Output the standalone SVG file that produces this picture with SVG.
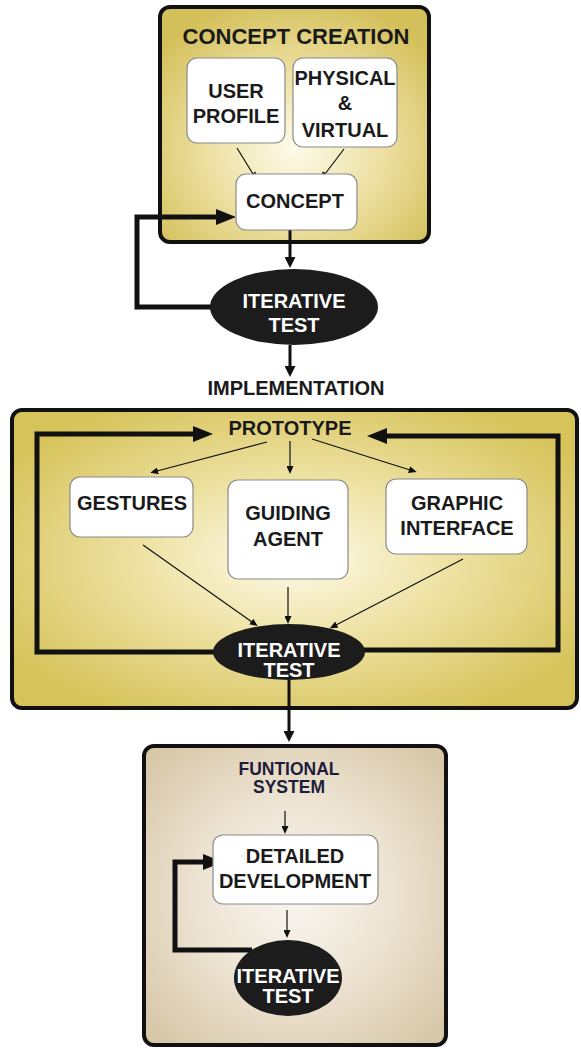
<svg xmlns="http://www.w3.org/2000/svg" width="581" height="1049" viewBox="0 0 581 1049">
<defs>
<radialGradient id="gYellowTop" cx="0.5" cy="0.6" r="0.65">
<stop offset="0" stop-color="#fdfbea"/>
<stop offset="0.5" stop-color="#ede0a2"/>
<stop offset="1" stop-color="#d3c05a"/>
</radialGradient>
<radialGradient id="gYellowMid" cx="0.5" cy="0.5" r="0.6">
<stop offset="0" stop-color="#fdfbea"/>
<stop offset="0.45" stop-color="#eee2a4"/>
<stop offset="1" stop-color="#d6c35a"/>
</radialGradient>
<radialGradient id="gBeige" cx="0.5" cy="0.5" r="0.65">
<stop offset="0" stop-color="#f9f6f1"/>
<stop offset="0.5" stop-color="#ede3d2"/>
<stop offset="1" stop-color="#d8c8aa"/>
</radialGradient>
<marker id="aThin" markerUnits="userSpaceOnUse" markerWidth="8" markerHeight="7" refX="1" refY="3.5" orient="auto">
<path d="M0,0 L8,3.5 L0,7 z" fill="#111"/>
</marker>
<marker id="aMed" markerUnits="userSpaceOnUse" markerWidth="11" markerHeight="11" refX="1" refY="5.5" orient="auto">
<path d="M0,0 L11,5.5 L0,11 z" fill="#111"/>
</marker>
<marker id="aThick" markerUnits="userSpaceOnUse" markerWidth="20" markerHeight="16" refX="2" refY="8" orient="auto">
<path d="M0,0 L20,8 L0,16 z" fill="#111"/>
</marker>
</defs>
<style>
.frame{stroke:#111;stroke-width:4}
.box{fill:#fff;stroke:#8a8a8a;stroke-width:1.2}
.oval{fill:#1c1c1c}
.t{font-family:"Liberation Sans",Arial,sans-serif;font-weight:bold;font-size:20px;fill:#1a1a1a;text-anchor:middle}
.w{fill:#fff}
.thin{fill:none;stroke:#111;stroke-width:1.2;marker-end:url(#aThin)}
.med{fill:none;stroke:#111;stroke-width:3;marker-end:url(#aMed)}
.thick{fill:none;stroke:#111;stroke-width:5;stroke-linejoin:miter;marker-end:url(#aThick)}
</style>

<!-- containers -->
<g id="concept-creation">
<rect class="frame" x="160" y="7" width="269" height="235" rx="10" fill="url(#gYellowTop)"/>
<text class="t" x="296" y="44" style="font-size:22px">CONCEPT CREATION</text>
</g>
<g id="implementation-area">
<rect class="frame" x="12" y="410" width="565" height="298" rx="10" fill="url(#gYellowMid)"/>
</g>
<g id="functional-area">
<rect class="frame" x="144" y="746" width="302" height="299" rx="10" fill="url(#gBeige)"/>
</g>

<!-- connectors -->
<g id="connectors">
<line class="thin" x1="237" y1="148" x2="253" y2="174"/>
<line class="thin" x1="344" y1="149" x2="325" y2="174"/>
<line class="med" x1="290" y1="230" x2="290" y2="258"/>
<path class="thick" d="M216,307 L137,307 L137,217 L218,217"/>
<line class="med" x1="290" y1="345" x2="290" y2="367"/>

<path class="thick" d="M214,652 L37,652 L37,434 L195,434"/>
<path class="thick" d="M364,650 L558,650 L558,436 L385,436"/>
<line class="thin" x1="267" y1="442" x2="157" y2="471"/>
<line class="thin" x1="290" y1="441" x2="290" y2="467"/>
<line class="thin" x1="312" y1="439" x2="410" y2="470"/>
<line class="thin" x1="143" y1="545" x2="252" y2="622"/>
<line class="thin" x1="288" y1="587" x2="288" y2="617"/>
<line class="thin" x1="463" y1="559" x2="336" y2="625"/>
<line class="med" x1="289" y1="680" x2="289" y2="732"/>

<line class="thin" x1="285" y1="811" x2="285" y2="827"/>
<path class="thick" d="M252,950 L175,950 L175,862 L205,862"/>
<line class="thin" x1="287" y1="910" x2="287" y2="931"/>
</g>

<!-- nodes -->
<g id="user-profile">
<rect class="box" x="187" y="58" width="98" height="85" rx="10"/>
<text class="t" x="236" y="98">USER</text>
<text class="t" x="236" y="123">PROFILE</text>
</g>
<g id="physical-virtual">
<rect class="box" x="293" y="58" width="104" height="89" rx="10"/>
<text class="t" x="345" y="85">PHYSICAL</text>
<text class="t" x="345" y="110">&amp;</text>
<text class="t" x="345" y="137">VIRTUAL</text>
</g>
<g id="concept">
<rect class="box" x="236" y="174" width="121" height="56" rx="10"/>
<text class="t" x="295" y="208">CONCEPT</text>
</g>
<g id="iterative-test-1">
<ellipse class="oval" cx="294" cy="307" rx="84" ry="38"/>
<text class="t w" x="294" y="308">ITERATIVE</text>
<text class="t w" x="294" y="332">TEST</text>
</g>
<g id="implementation">
<text class="t" x="296" y="395">IMPLEMENTATION</text>
</g>
<g id="prototype">
<text class="t" x="290" y="435">PROTOTYPE</text>
</g>
<g id="gestures">
<rect class="box" x="70" y="477" width="123" height="60" rx="10"/>
<text class="t" x="132" y="510">GESTURES</text>
</g>
<g id="guiding-agent">
<rect class="box" x="228" y="480" width="120" height="99" rx="10"/>
<text class="t" x="288" y="520">GUIDING</text>
<text class="t" x="288" y="546">AGENT</text>
</g>
<g id="graphic-interface">
<rect class="box" x="386" y="479" width="141" height="75" rx="10"/>
<text class="t" x="457" y="510">GRAPHIC</text>
<text class="t" x="457" y="535">INTERFACE</text>
</g>
<g id="iterative-test-2">
<ellipse class="oval" cx="289" cy="652" rx="76" ry="28"/>
<text class="t w" x="289" y="657">ITERATIVE</text>
<text class="t w" x="289" y="677">TEST</text>
</g>
<g id="functional-system">
<text class="t" x="289" y="775" style="font-size:17.5px;fill:#1e1e3a">FUNTIONAL</text>
<text class="t" x="289" y="793" style="font-size:17.5px;fill:#1e1e3a">SYSTEM</text>
</g>
<g id="detailed-development">
<rect class="box" x="213" y="835" width="165" height="69" rx="10"/>
<text class="t" x="295" y="863">DETAILED</text>
<text class="t" x="295" y="888">DEVELOPMENT</text>
</g>
<g id="iterative-test-3">
<ellipse class="oval" cx="288" cy="978" rx="54" ry="38"/>
<text class="t w" x="288" y="983">ITERATIVE</text>
<text class="t w" x="288" y="1003">TEST</text>
</g>
</svg>
